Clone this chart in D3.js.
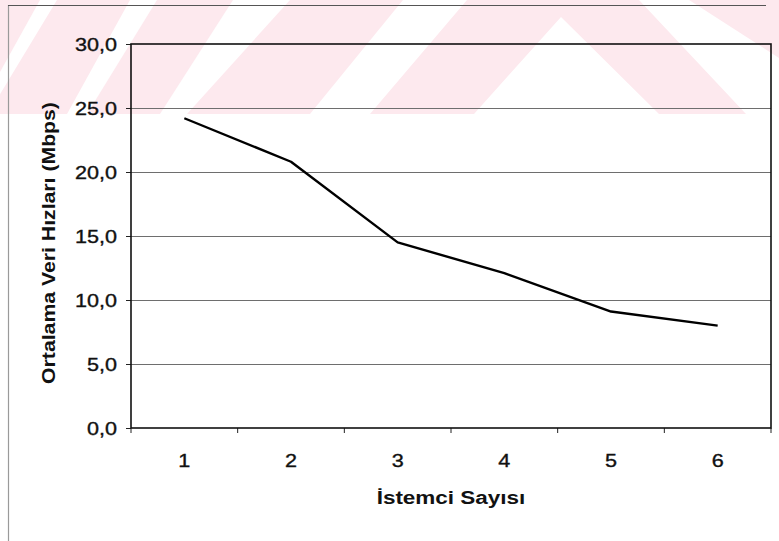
<!DOCTYPE html>
<html>
<head>
<meta charset="utf-8">
<script src="https://cdn.jsdelivr.net/npm/d3@7"></script>
<style>
  html, body { margin: 0; padding: 0; background: #fff; }
  svg { display: block; font-family: "Liberation Sans", Arial, sans-serif; }
</style>
</head>
<body>
<svg id="chart" width="779" height="541"></svg>
<script>
// Client count categories and average data rate (Mbps)
const categories = ["1", "2", "3", "4", "5", "6"];
const rates = [24.2, 20.8, 14.5, 12.1, 9.1, 8.0];
const yTicks = [0, 5, 10, 15, 20, 25, 30];
const xTitle = "İstemci Sayısı";
const yTitle = "Ortalama Veri Hızları (Mbps)";

const svg = d3.select("#chart");
const W = 779, H = 541;
const plot = { left: 131, right: 771, top: 44, bottom: 428 };
const fontSize = 18;
const stretch = 1.2;      // wide letterforms used throughout

// Background watermark stripes (light pink band across the top)
const pink = "#fde9ee";
const wm = svg.append("g").attr("class", "watermark");
const bandBottom = 114;
const stripes = [
  [[0, 0], [40, 0], [0, 72]],
  [[57, 0], [130, 0], [67, bandBottom], [-12, bandBottom]],
  [[157, 0], [233, 0], [160, bandBottom], [87, bandBottom]],
  [[290, 0], [403, 0], [310, bandBottom], [187, bandBottom]],
  [[689, 0], [779, 0], [779, 58]],
  [[0, 95], [0, bandBottom], [-12, bandBottom]]
];
stripes.forEach(p => wm.append("polygon")
  .attr("points", p.map(d => d.join(",")).join(" "))
  .attr("fill", pink));
// Chevron shape: outer wedge minus inner triangle
wm.append("path")
  .attr("fill", pink)
  .attr("fill-rule", "evenodd")
  .attr("d", "M370," + bandBottom + " L467,0 L639,0 L746," + bandBottom + " Z " +
             "M474," + bandBottom + " L561,17 L659," + bandBottom + " Z");

// Outer frame of the figure
svg.append("line").attr("x1", 8.5).attr("x2", 8.5).attr("y1", 5).attr("y2", H)
  .attr("stroke", "#9a9a9a").attr("stroke-width", 1.2);
svg.append("line").attr("x1", 8).attr("x2", 766).attr("y1", 5.5).attr("y2", 5.5)
  .attr("stroke", "#555").attr("stroke-width", 1);

// Scales
const x = d3.scaleBand().domain(categories).range([plot.left, plot.right]).padding(0);
const y = d3.scaleLinear().domain([0, 30]).range([plot.bottom, plot.top]);

// Horizontal gridlines
svg.append("g")
  .selectAll("line")
  .data(yTicks.filter(t => t > 0 && t < 30))
  .join("line")
  .attr("x1", plot.left).attr("x2", plot.right)
  .attr("y1", d => y(d) + 0.5).attr("y2", d => y(d) + 0.5)
  .attr("stroke", "#6e6e6e").attr("stroke-width", 1);

// Y axis with comma decimals
const yAxis = d3.axisLeft(y)
  .tickValues(yTicks)
  .tickSize(5)
  .tickPadding(8)
  .tickFormat(d => d3.format(".1f")(d).replace(".", ","));
const gy = svg.append("g").attr("transform", `translate(${plot.left},0)`).call(yAxis);
gy.select(".domain").remove();
gy.selectAll(".tick line").attr("stroke", "#222");
gy.selectAll(".tick text")
  .attr("font-size", fontSize)
  .attr("font-family", "Liberation Sans, Arial, sans-serif")
  .attr("fill", "#111")
  .attr("stroke", "#111")
  .attr("stroke-width", 0.35)
  .attr("dy", "0.36em")
  .attr("x", -14 / stretch)
  .attr("transform", `scale(${stretch},1)`);

// X axis: ticks at category boundaries, labels centred in each band
const boundaries = categories.map(c => x(c)).concat([plot.right]);
svg.append("g")
  .selectAll("line")
  .data(boundaries)
  .join("line")
  .attr("x1", d => d).attr("x2", d => d)
  .attr("y1", plot.bottom).attr("y2", plot.bottom + 5)
  .attr("stroke", "#222");
svg.append("g")
  .selectAll("text")
  .data(categories)
  .join("text")
  .attr("transform", d => `translate(${x(d) + x.bandwidth() / 2},467) scale(${stretch},1)`)
  .attr("text-anchor", "middle")
  .attr("font-size", fontSize)
  .attr("fill", "#111")
  .attr("stroke", "#111")
  .attr("stroke-width", 0.35)
  .text(d => d);

// Plot area border
svg.append("rect")
  .attr("x", plot.left).attr("y", plot.top)
  .attr("width", plot.right - plot.left).attr("height", plot.bottom - plot.top)
  .attr("fill", "none").attr("stroke", "#111").attr("stroke-width", 1.6);

// Data line
const line = d3.line()
  .x((d, i) => x(categories[i]) + x.bandwidth() / 2)
  .y(d => y(d));
svg.append("path")
  .datum(rates)
  .attr("d", line)
  .attr("fill", "none")
  .attr("stroke", "#000")
  .attr("stroke-width", 2.4)
  .attr("stroke-linejoin", "round");

// Axis titles
svg.append("text")
  .attr("transform", `translate(${(plot.left + plot.right) / 2},504) scale(${stretch + 0.05},1)`)
  .attr("text-anchor", "middle")
  .attr("font-size", fontSize)
  .attr("font-weight", "bold")
  .attr("fill", "#111")
  .text(xTitle);

svg.append("text")
  .attr("transform", `translate(55,243) rotate(-90) scale(1.18,1)`)
  .attr("text-anchor", "middle")
  .attr("font-size", fontSize)
  .attr("font-weight", "bold")
  .attr("fill", "#111")
  .text(yTitle);
</script>
</body>
</html>
